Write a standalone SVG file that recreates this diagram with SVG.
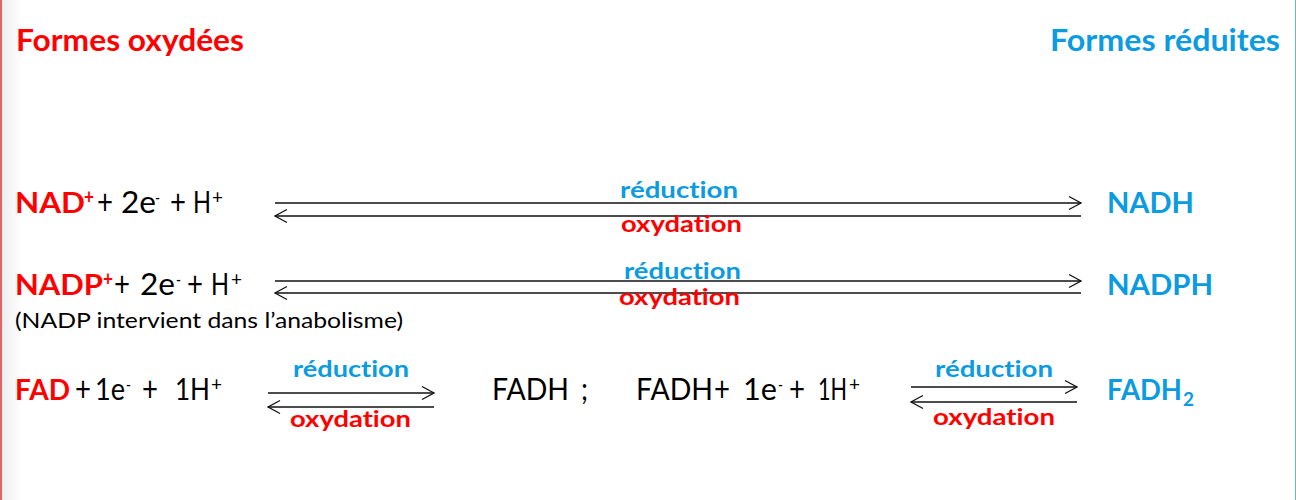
<svg xmlns="http://www.w3.org/2000/svg" width="1296" height="500" viewBox="0 0 1296 500">
<style>
text{font-family:Lato,"Open Sans","Liberation Sans",sans-serif;font-variant-ligatures:none;font-feature-settings:"liga" 0,"clig" 0;}
.r{fill:#FF0000;font-weight:700;}
.b{fill:#0B9BE0;font-weight:700;}
.k{fill:#000;font-weight:400;font-size:30px;}
.pl{font-size:34px;}
.h{font-size:30px;}
.m{font-size:29px;}
.s{font-size:18px;}
.sp{font-size:20px;}
.lab{font-size:22px;}
.p{font-size:21px;fill:#000;}
.ln{fill:none;stroke:#111;stroke-width:1.5;marker-end:url(#chev);}
</style>
<defs>
<linearGradient id="lg" x1="0" y1="0" x2="1" y2="0">
<stop offset="0" stop-color="#ececec"/>
<stop offset="1" stop-color="#ffffff"/>
</linearGradient>
<marker id="chev" markerUnits="userSpaceOnUse" viewBox="-14 -8 16 16" markerWidth="16" markerHeight="16" refX="0" refY="0" orient="auto">
<path d="M-12,-6.5 L0,0 L-12,6.5" fill="none" stroke="#111" stroke-width="1.3"/>
</marker>
</defs>
<rect width="1296" height="500" fill="#fff"/>
<rect x="0" y="0" width="22" height="500" fill="url(#lg)"/>
<line x1="1" y1="0" x2="1" y2="500" stroke="#E8303A" stroke-width="1.5"/>
<line x1="1295.5" y1="0" x2="1295.5" y2="500" stroke="#6DB2E6" stroke-width="1"/>

<g id="title-oxydees"><text class="r h" x="16" y="51" textLength="228" lengthAdjust="spacingAndGlyphs">Formes oxydées</text></g>
<g id="title-reduites"><text class="b h" x="1050" y="51" textLength="230" lengthAdjust="spacingAndGlyphs">Formes réduites</text></g>

<g id="nad">
<text class="r m" x="15" y="213" textLength="70" lengthAdjust="spacingAndGlyphs">NAD</text>
<text class="r sp" x="84" y="204" textLength="10" lengthAdjust="spacingAndGlyphs">+</text>
<text class="k pl" x="97" y="214" textLength="16" lengthAdjust="spacingAndGlyphs">+</text>
<text class="k" x="121" y="213" textLength="35" lengthAdjust="spacingAndGlyphs">2e</text>
<text class="k s" x="155" y="204" textLength="5" lengthAdjust="spacingAndGlyphs">-</text>
<text class="k pl" x="170" y="214" textLength="16" lengthAdjust="spacingAndGlyphs">+</text>
<text class="k" x="193" y="213" textLength="18" lengthAdjust="spacingAndGlyphs">H</text>
<text class="k sp" x="212" y="204" textLength="11" lengthAdjust="spacingAndGlyphs">+</text>
</g>
<g id="nadh"><text class="b m" x="1107" y="213" textLength="87" lengthAdjust="spacingAndGlyphs">NADH</text></g>

<g id="nadp">
<text class="r m" x="15" y="295" textLength="88" lengthAdjust="spacingAndGlyphs">NADP</text>
<text class="r sp" x="103" y="286" textLength="10" lengthAdjust="spacingAndGlyphs">+</text>
<text class="k pl" x="114" y="296" textLength="16" lengthAdjust="spacingAndGlyphs">+</text>
<text class="k" x="140" y="295" textLength="35" lengthAdjust="spacingAndGlyphs">2e</text>
<text class="k s" x="176" y="286" textLength="5" lengthAdjust="spacingAndGlyphs">-</text>
<text class="k pl" x="187" y="296" textLength="16" lengthAdjust="spacingAndGlyphs">+</text>
<text class="k" x="211" y="295" textLength="18" lengthAdjust="spacingAndGlyphs">H</text>
<text class="k sp" x="231" y="286" textLength="11" lengthAdjust="spacingAndGlyphs">+</text>
<text class="p" x="15" y="328" textLength="388" lengthAdjust="spacingAndGlyphs">(NADP intervient dans l’anabolisme)</text>
</g>
<g id="nadph"><text class="b m" x="1107" y="295" textLength="106" lengthAdjust="spacingAndGlyphs">NADPH</text></g>

<g id="fad">
<text class="r m" x="15" y="400" textLength="55" lengthAdjust="spacingAndGlyphs">FAD</text>
<text class="k pl" x="75" y="401" textLength="16" lengthAdjust="spacingAndGlyphs">+</text>
<text class="k" x="95" y="400" textLength="30" lengthAdjust="spacingAndGlyphs">1e</text>
<text class="k s" x="126" y="391" textLength="5" lengthAdjust="spacingAndGlyphs">-</text>
<text class="k pl" x="142" y="401" textLength="16" lengthAdjust="spacingAndGlyphs">+</text>
<text class="k" x="175" y="400" textLength="35" lengthAdjust="spacingAndGlyphs">1H</text>
<text class="k sp" x="211" y="391" textLength="11" lengthAdjust="spacingAndGlyphs">+</text>
</g>
<g id="fadh">
<text class="k" x="492" y="400" textLength="77" lengthAdjust="spacingAndGlyphs">FADH</text>
<text class="k" x="581" y="400" textLength="7" lengthAdjust="spacingAndGlyphs">;</text>
</g>
<g id="fadh-reactants">
<text class="k" x="636" y="400" textLength="77" lengthAdjust="spacingAndGlyphs">FADH</text>
<text class="k pl" x="714" y="401" textLength="16" lengthAdjust="spacingAndGlyphs">+</text>
<text class="k" x="743" y="400" textLength="34" lengthAdjust="spacingAndGlyphs">1e</text>
<text class="k s" x="778" y="391" textLength="5" lengthAdjust="spacingAndGlyphs">-</text>
<text class="k pl" x="789" y="401" textLength="16" lengthAdjust="spacingAndGlyphs">+</text>
<text class="k" x="818" y="400" textLength="29" lengthAdjust="spacingAndGlyphs">1H</text>
<text class="k sp" x="849" y="391" textLength="11" lengthAdjust="spacingAndGlyphs">+</text>
</g>
<g id="fadh2">
<text class="b m" x="1107" y="400" textLength="75" lengthAdjust="spacingAndGlyphs">FADH</text>
<text class="b s" x="1183" y="406" textLength="11" lengthAdjust="spacingAndGlyphs">2</text>
</g>

<g id="connectors">
<path class="ln" d="M275,203 H1081"/>
<path class="ln" d="M1081,216 H275"/>
<path class="ln" d="M275,281 H1081"/>
<path class="ln" d="M1081,293 H275"/>
<path class="ln" d="M268,393 H434"/>
<path class="ln" d="M434,407 H268"/>
<path class="ln" d="M911,387 H1077"/>
<path class="ln" d="M1077,402 H911"/>
<text class="b lab" x="620" y="198" textLength="118" lengthAdjust="spacingAndGlyphs">réduction</text>
<text class="r lab" x="621" y="232" textLength="121" lengthAdjust="spacingAndGlyphs">oxydation</text>
<text class="b lab" x="624" y="279" textLength="117" lengthAdjust="spacingAndGlyphs">réduction</text>
<text class="r lab" x="619" y="305" textLength="121" lengthAdjust="spacingAndGlyphs">oxydation</text>
<text class="b lab" x="293" y="377" textLength="116" lengthAdjust="spacingAndGlyphs">réduction</text>
<text class="r lab" x="290" y="427" textLength="121" lengthAdjust="spacingAndGlyphs">oxydation</text>
<text class="b lab" x="935" y="377" textLength="118" lengthAdjust="spacingAndGlyphs">réduction</text>
<text class="r lab" x="933" y="425" textLength="122" lengthAdjust="spacingAndGlyphs">oxydation</text>
</g>
</svg>
